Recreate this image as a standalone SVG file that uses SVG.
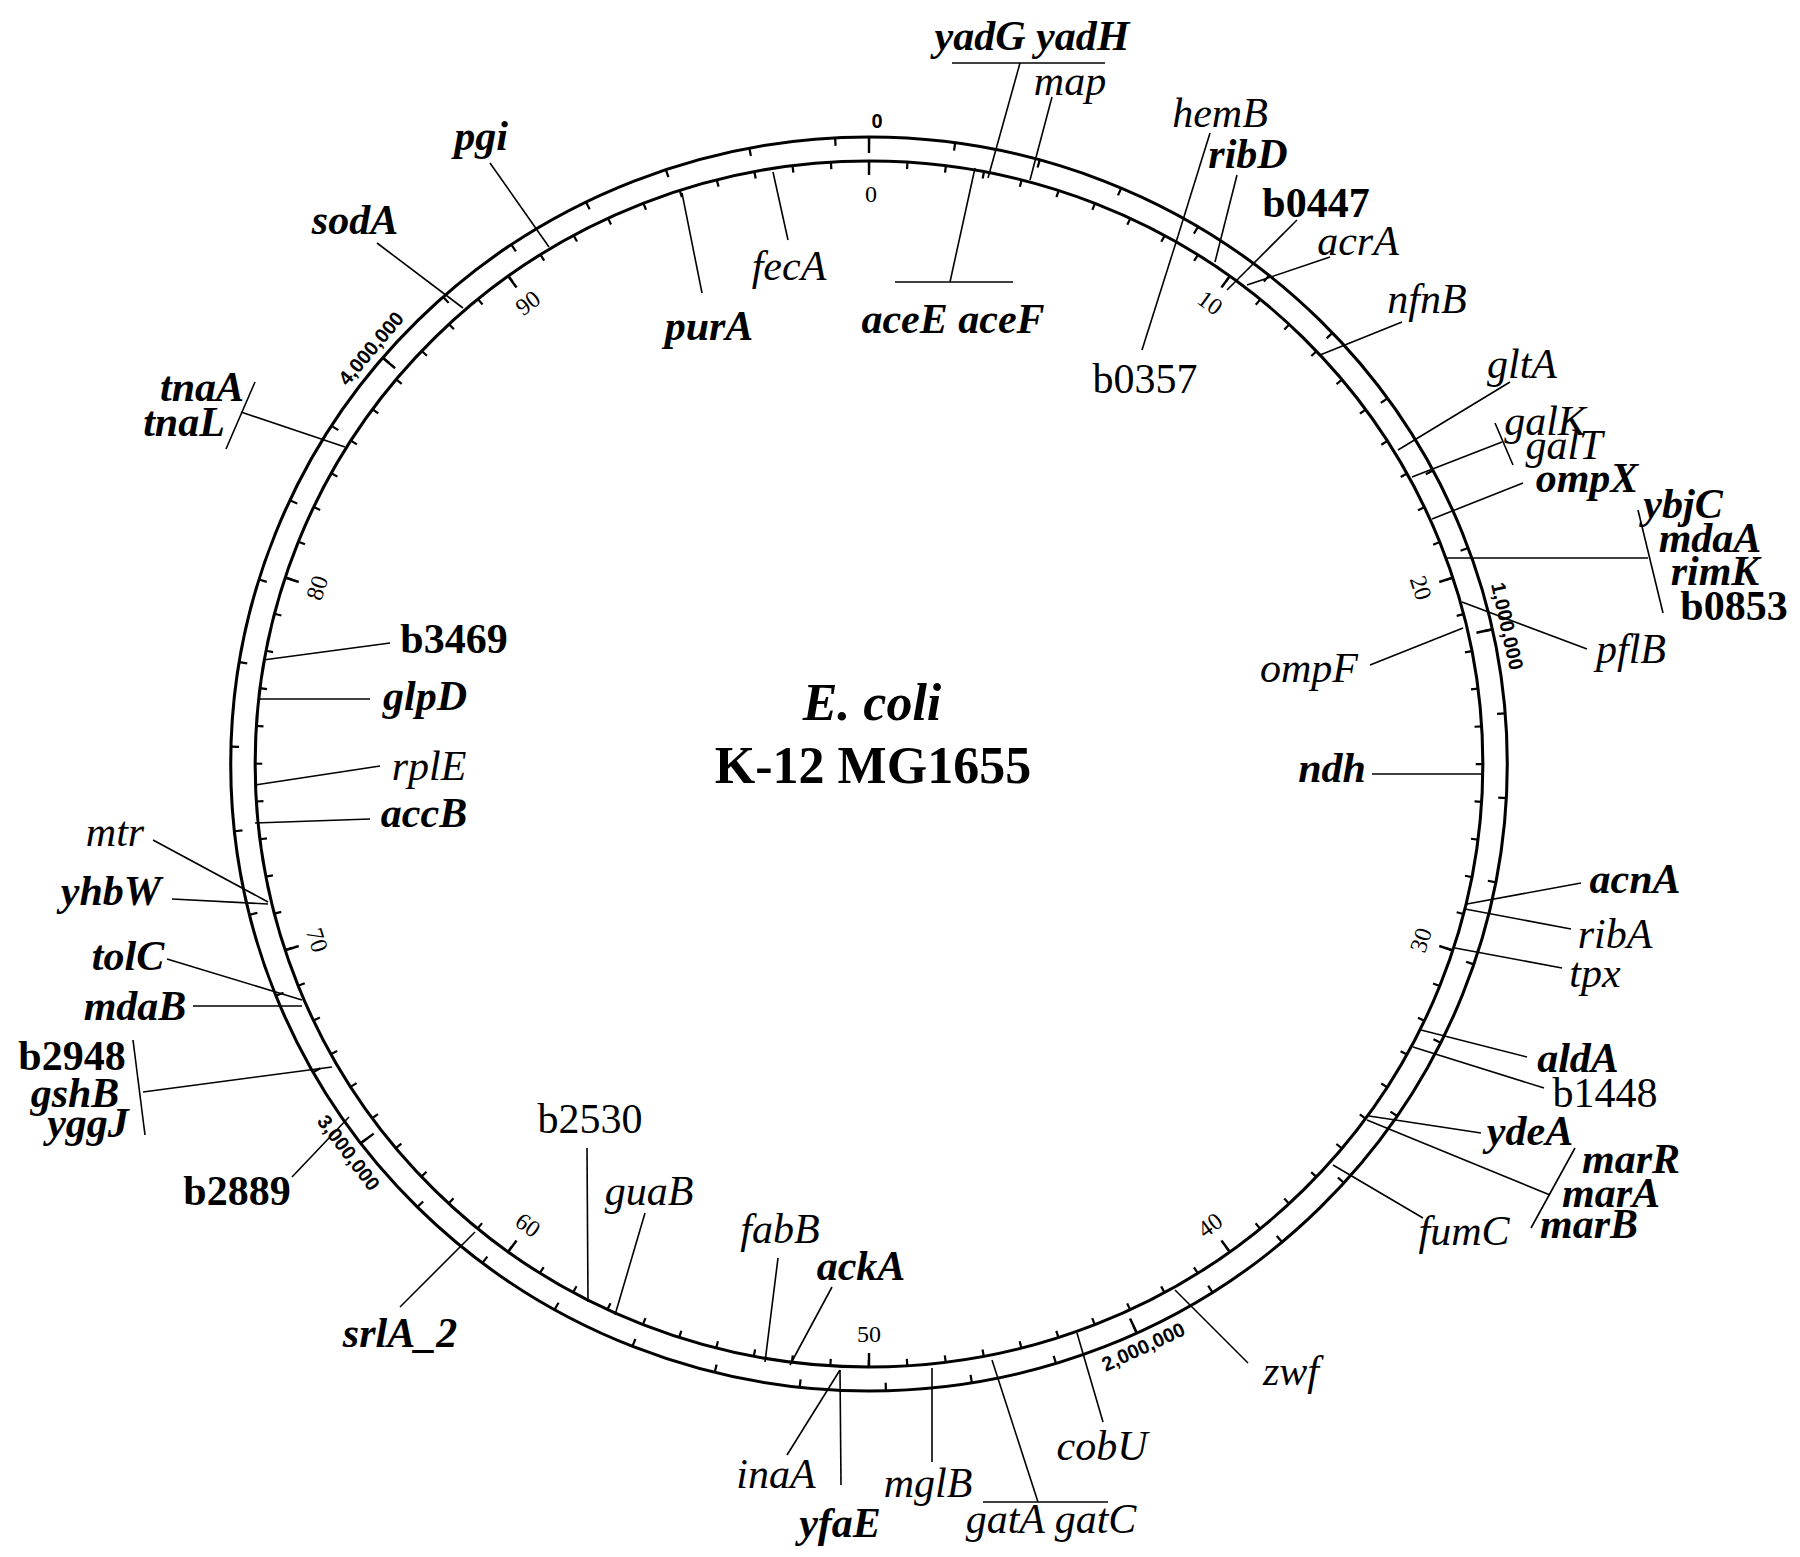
<svg xmlns="http://www.w3.org/2000/svg" width="1800" height="1557" viewBox="0 0 1800 1557">
<style>
.c{fill:none;stroke:#000;stroke-width:3}
.mj{stroke:#000;stroke-width:2.4}
.ln{stroke:#000;stroke-width:1.6;fill:none}
.g{font-family:"Liberation Serif","Times New Roman",serif;font-size:42px;text-anchor:middle;fill:#000}
.bi{font-weight:bold;font-style:italic}
.b{font-weight:bold}
.i{font-style:italic}
.mn{font-family:"Liberation Serif","Times New Roman",serif;font-size:24px;text-anchor:middle;fill:#000}
.bp{font-family:"Liberation Sans",Arial,sans-serif;font-size:20px;font-weight:bold;text-anchor:middle;fill:#000}
.t{font-family:"Liberation Serif","Times New Roman",serif;font-size:52px;font-weight:bold;text-anchor:middle;fill:#000}
</style>
<rect width="1800" height="1557" fill="#fff"/>
<g id="map">
<g transform="translate(869 764) scale(1.018 1)">
<circle class="c" r="627"/>
<circle class="c" r="603"/>
<circle r="623" fill="none" stroke="#000" stroke-width="8" stroke-dasharray="2.2 82.168" stroke-dashoffset="1.1" transform="rotate(-90)"/>
<circle r="599.5" fill="none" stroke="#000" stroke-width="7" stroke-dasharray="2.2 35.4677" stroke-dashoffset="1.1" transform="rotate(-90)"/>
<g class="mj">
<line x1="0" y1="-627" x2="0" y2="-611"/>
<line x1="0" y1="-627" x2="0" y2="-611" transform="rotate(77.593)"/>
<line x1="0" y1="-627" x2="0" y2="-611" transform="rotate(155.186)"/>
<line x1="0" y1="-627" x2="0" y2="-611" transform="rotate(232.779)"/>
<line x1="0" y1="-627" x2="0" y2="-611" transform="rotate(310.372)"/>
<line x1="0" y1="-603" x2="0" y2="-589"/>
<line x1="0" y1="-603" x2="0" y2="-589" transform="rotate(36)"/>
<line x1="0" y1="-603" x2="0" y2="-589" transform="rotate(72)"/>
<line x1="0" y1="-603" x2="0" y2="-589" transform="rotate(108)"/>
<line x1="0" y1="-603" x2="0" y2="-589" transform="rotate(144)"/>
<line x1="0" y1="-603" x2="0" y2="-589" transform="rotate(180)"/>
<line x1="0" y1="-603" x2="0" y2="-589" transform="rotate(216)"/>
<line x1="0" y1="-603" x2="0" y2="-589" transform="rotate(252)"/>
<line x1="0" y1="-603" x2="0" y2="-589" transform="rotate(288)"/>
<line x1="0" y1="-603" x2="0" y2="-589" transform="rotate(324)"/>
</g>
</g>
<g id="bp-scale">
<text class="bp" transform="translate(877 121)" y="7">0</text>
<text class="bp" transform="translate(1507.3 626.1) rotate(77.593)" y="7">1,000,000</text>
<text class="bp" transform="translate(1143.3 1346.7) rotate(-24.814)" y="7">2,000,000</text>
<text class="bp" transform="translate(348.7 1152.6) rotate(52.779)" y="7">3,000,000</text>
<text class="bp" transform="translate(370.9 348.3) rotate(-49.628)" y="7">4,000,000</text>
</g>
<g id="minute-scale">
<text class="mn" transform="translate(871 194)" y="8">0</text>
<text class="mn" transform="translate(1210.1 302.9) rotate(36)" y="8">10</text>
<text class="mn" transform="translate(1420.9 587.9) rotate(72)" y="8">20</text>
<text class="mn" transform="translate(1420.9 940.1) rotate(-72)" y="8">30</text>
<text class="mn" transform="translate(1210.1 1225.1) rotate(-36)" y="8">40</text>
<text class="mn" transform="translate(869 1334)" y="8">50</text>
<text class="mn" transform="translate(527.9 1225.1) rotate(36)" y="8">60</text>
<text class="mn" transform="translate(317.1 940.1) rotate(72)" y="8">70</text>
<text class="mn" transform="translate(317.1 587.9) rotate(-72)" y="8">80</text>
<text class="mn" transform="translate(527.9 302.9) rotate(-36)" y="8">90</text>
</g>
</g>
<g id="title">
<text class="t" x="872" y="720" font-style="italic">E. coli</text>
<text class="t" x="873" y="783">K-12 MG1655</text>
</g>
<g id="connectors" class="ln">
<line x1="1020" y1="63" x2="988" y2="178"/>
<line x1="1052" y1="97" x2="1030" y2="180"/>
<line x1="773" y1="172" x2="788" y2="240"/>
<line x1="975" y1="168" x2="950" y2="282"/>
<line x1="682" y1="193" x2="702" y2="293"/>
<line x1="490" y1="163" x2="549" y2="247"/>
<line x1="377" y1="243" x2="463" y2="308"/>
<line x1="241" y1="412" x2="345" y2="447"/>
<line x1="390" y1="643" x2="263" y2="660"/>
<line x1="370" y1="699" x2="260" y2="699"/>
<line x1="380" y1="766" x2="255" y2="785"/>
<line x1="370" y1="819" x2="255" y2="823"/>
<line x1="153" y1="840" x2="268" y2="902"/>
<line x1="172" y1="899" x2="268" y2="904"/>
<line x1="167" y1="959" x2="302" y2="1000"/>
<line x1="193" y1="1006" x2="302" y2="1006"/>
<line x1="143" y1="1092" x2="332" y2="1067"/>
<line x1="292" y1="1177" x2="349" y2="1117"/>
<line x1="400" y1="1307" x2="475" y2="1232"/>
<line x1="587" y1="1148" x2="588" y2="1302"/>
<line x1="645" y1="1213" x2="615" y2="1315"/>
<line x1="778" y1="1258" x2="765" y2="1362"/>
<line x1="832" y1="1287" x2="790" y2="1365"/>
<line x1="787" y1="1455" x2="840" y2="1370"/>
<line x1="840" y1="1370" x2="841" y2="1485"/>
<line x1="932" y1="1368" x2="932" y2="1462"/>
<line x1="992" y1="1360" x2="1038" y2="1502"/>
<line x1="1103" y1="1422" x2="1077" y2="1333"/>
<line x1="1248" y1="1363" x2="1175" y2="1290"/>
<line x1="1423" y1="1218" x2="1333" y2="1165"/>
<line x1="1550" y1="1195" x2="1367" y2="1120"/>
<line x1="1481" y1="1133" x2="1369" y2="1116"/>
<line x1="1544" y1="1088" x2="1413" y2="1047"/>
<line x1="1527" y1="1057" x2="1421" y2="1030"/>
<line x1="1562" y1="968" x2="1455" y2="948"/>
<line x1="1571" y1="929" x2="1465" y2="909"/>
<line x1="1581" y1="883" x2="1467" y2="904"/>
<line x1="1372" y1="774" x2="1483" y2="774"/>
<line x1="1370" y1="665" x2="1463" y2="628"/>
<line x1="1587" y1="649" x2="1462" y2="602"/>
<line x1="1648" y1="558" x2="1447" y2="558"/>
<line x1="1523" y1="483" x2="1432" y2="519"/>
<line x1="1502" y1="442" x2="1412" y2="477"/>
<line x1="1510" y1="382" x2="1398" y2="450"/>
<line x1="1402" y1="322" x2="1320" y2="355"/>
<line x1="1330" y1="257" x2="1247" y2="285"/>
<line x1="1297" y1="220" x2="1227" y2="290"/>
<line x1="1237" y1="175" x2="1215" y2="262"/>
<line x1="1210" y1="133" x2="1178" y2="236"/>
<line x1="1142" y1="350" x2="1178" y2="236"/>
</g>
<g id="gene-yadG-yadH"><text class="g bi" x="1032" y="50">yadG yadH</text><line class="ln" x1="952" y1="63" x2="1105" y2="63"/></g>
<g id="gene-map"><text class="g i" x="1070" y="95">map</text></g>
<g id="gene-fecA"><text class="g i" x="789" y="280">fecA</text></g>
<g id="gene-aceE-aceF"><line class="ln" x1="895" y1="282" x2="1013" y2="282"/><text class="g bi" x="953" y="333">aceE aceF</text></g>
<g id="gene-purA"><text class="g bi" x="709" y="340">purA</text></g>
<g id="gene-pgi"><text class="g bi" x="481" y="150">pgi</text></g>
<g id="gene-sodA"><text class="g bi" x="355" y="234">sodA</text></g>
<g id="gene-tnaA-tnaL"><text class="g bi" x="202" y="401">tnaA</text><text class="g bi" x="184" y="436">tnaL</text><line class="ln" x1="255" y1="382" x2="226" y2="449"/></g>
<g id="gene-b3469"><text class="g b" x="454" y="653">b3469</text></g>
<g id="gene-glpD"><text class="g bi" x="425" y="710">glpD</text></g>
<g id="gene-rplE"><text class="g i" x="429" y="780">rplE</text></g>
<g id="gene-accB"><text class="g bi" x="424" y="827">accB</text></g>
<g id="gene-mtr"><text class="g i" x="115" y="846">mtr</text></g>
<g id="gene-yhbW"><text class="g bi" x="111" y="905">yhbW</text></g>
<g id="gene-tolC"><text class="g bi" x="128" y="970">tolC</text></g>
<g id="gene-mdaB"><text class="g bi" x="135" y="1020">mdaB</text></g>
<g id="gene-b2948-gshB-yggJ"><text class="g b" x="72" y="1070">b2948</text><text class="g bi" x="75" y="1107">gshB</text><text class="g bi" x="88" y="1137">yggJ</text><line class="ln" x1="133" y1="1040" x2="145" y2="1135"/></g>
<g id="gene-b2889"><text class="g b" x="237" y="1205">b2889</text></g>
<g id="gene-srlA_2"><text class="g bi" x="400" y="1347">srlA_2</text></g>
<g id="gene-b2530"><text class="g" x="590" y="1133">b2530</text></g>
<g id="gene-guaB"><text class="g i" x="649" y="1205">guaB</text></g>
<g id="gene-fabB"><text class="g i" x="780" y="1243">fabB</text></g>
<g id="gene-ackA"><text class="g bi" x="861" y="1280">ackA</text></g>
<g id="gene-inaA"><text class="g i" x="776" y="1488">inaA</text></g>
<g id="gene-yfaE"><text class="g bi" x="840" y="1537">yfaE</text></g>
<g id="gene-mglB"><text class="g i" x="928" y="1497">mglB</text></g>
<g id="gene-gatA-gatC"><line class="ln" x1="983" y1="1502" x2="1108" y2="1502"/><text class="g i" x="1051" y="1533">gatA gatC</text></g>
<g id="gene-cobU"><text class="g i" x="1102" y="1460">cobU</text></g>
<g id="gene-zwf"><text class="g i" x="1291" y="1385">zwf</text></g>
<g id="gene-fumC"><text class="g i" x="1464" y="1245">fumC</text></g>
<g id="gene-marRAB"><text class="g bi" x="1631" y="1173">marR</text><text class="g bi" x="1611" y="1207">marA</text><text class="g bi" x="1589" y="1238">marB</text><line class="ln" x1="1575" y1="1148" x2="1531" y2="1228"/></g>
<g id="gene-ydeA"><text class="g bi" x="1530" y="1145">ydeA</text></g>
<g id="gene-b1448"><text class="g" x="1605" y="1107">b1448</text></g>
<g id="gene-aldA"><text class="g bi" x="1578" y="1072">aldA</text></g>
<g id="gene-tpx"><text class="g i" x="1595" y="987">tpx</text></g>
<g id="gene-ribA"><text class="g i" x="1615" y="948">ribA</text></g>
<g id="gene-acnA"><text class="g bi" x="1635" y="893">acnA</text></g>
<g id="gene-ndh"><text class="g bi" x="1332" y="782">ndh</text></g>
<g id="gene-ompF"><text class="g i" x="1309" y="682">ompF</text></g>
<g id="gene-pflB"><text class="g i" x="1631" y="663">pflB</text></g>
<g id="gene-ybjC-mdaA-rimK-b0853"><text class="g bi" x="1683" y="518">ybjC</text><text class="g bi" x="1710" y="552">mdaA</text><text class="g bi" x="1715" y="585">rimK</text><text class="g b" x="1734" y="620">b0853</text><line class="ln" x1="1638" y1="510" x2="1663" y2="613"/></g>
<g id="gene-ompX"><text class="g bi" x="1587" y="492">ompX</text></g>
<g id="gene-galK-galT"><text class="g i" x="1545" y="435">galK</text><text class="g i" x="1564" y="459">galT</text><line class="ln" x1="1495" y1="423" x2="1513" y2="465"/></g>
<g id="gene-gltA"><text class="g i" x="1522" y="378">gltA</text></g>
<g id="gene-nfnB"><text class="g i" x="1427" y="313">nfnB</text></g>
<g id="gene-acrA"><text class="g i" x="1358" y="255">acrA</text></g>
<g id="gene-b0447"><text class="g b" x="1316" y="217">b0447</text></g>
<g id="gene-ribD"><text class="g bi" x="1248" y="168">ribD</text></g>
<g id="gene-hemB"><text class="g i" x="1220" y="127">hemB</text></g>
<g id="gene-b0357"><text class="g" x="1145" y="393">b0357</text></g>
</svg>
